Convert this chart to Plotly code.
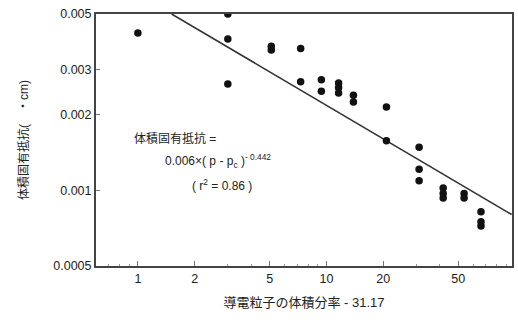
import plotly.graph_objects as go

# Data
px_vals = [1, 3, 3, 3, 5.1, 5.1, 7.3, 7.3, 9.4, 9.4, 11.6, 11.6, 11.6, 13.9, 13.9,
           20.8, 20.8, 31, 31, 31, 41.6, 41.6, 41.6, 53.7, 53.7, 66, 66, 66]
rho_vals = [0.0042, 0.005, 0.00398, 0.00264, 0.00360, 0.00372, 0.00365, 0.00269,
            0.00274, 0.00247, 0.00266, 0.00255, 0.00243, 0.00238, 0.00224,
            0.00214, 0.00157, 0.00148, 0.00121, 0.00109, 0.00102, 0.00097, 0.00093,
            0.00097, 0.00093, 0.00082, 0.00075, 0.00072]
fit_x = [1.51, 96]
fit_y = [0.005, 0.0008]
x_ticks = [1, 2, 5, 10, 20, 50]
x_minor = [0.7, 0.8, 0.9, 3, 4, 6, 7, 8, 9, 30, 40, 60, 70, 80, 90]
y_ticks = [0.0005, 0.001, 0.002, 0.003, 0.005]
y_tick_labels = ["0.0005", "0.001", "0.002", "0.003", "0.005"]

FONT = "Liberation Sans, Noto Sans CJK JP, Arial, sans-serif"

fig = go.Figure()
fig.add_trace(go.Scatter(x=fit_x, y=fit_y, mode="lines",
                         line=dict(color="#333333", width=1.6), showlegend=False))
fig.add_trace(go.Scatter(x=px_vals, y=rho_vals, mode="markers",
                         marker=dict(color="#111111", size=7.5), showlegend=False))

fig.update_layout(
    width=518, height=320,
    margin=dict(l=96, r=4, t=14, b=54),
    paper_bgcolor="white", plot_bgcolor="white",
    font=dict(family=FONT, size=12, color="#222222"),
    xaxis=dict(type="log", range=[-0.222, 1.984],
               tickvals=x_ticks, ticktext=[str(v) for v in x_ticks],
               ticks="inside", ticklen=5, tickcolor="#777777",
               minor=dict(tickvals=x_minor, ticks="inside", ticklen=2, tickcolor="#999999"),
               showgrid=False, zeroline=False,
               showline=True, linecolor="#444444", linewidth=2, mirror=True,
               tickfont=dict(size=12.5),
               title=dict(text="導電粒子の体積分率 - 31.17", font=dict(size=13), standoff=13)),
    yaxis=dict(type="log", range=[-3.30103, -2.30103],
               tickvals=y_ticks, ticktext=y_tick_labels,
               ticks="inside", ticklen=4, tickcolor="#777777",
               showgrid=False, zeroline=False,
               showline=True, linecolor="#444444", linewidth=2, mirror=True,
               tickfont=dict(size=12.5),
               title=dict(text="体積固有抵抗(　・cm)", font=dict(size=12), standoff=22)),
)

fig.add_annotation(x=(132 - 96) / 418, y=(266 - 138) / 252, xref="paper", yref="paper",
                   text="体積固有抵抗 =",
                   showarrow=False, xanchor="left", yanchor="middle", font=dict(size=12))
fig.add_annotation(x=(163 - 96) / 418, y=(266 - 161) / 252, xref="paper", yref="paper",
                   text="0.006×( p - p<sub>c</sub> )<sup>- 0.442</sup>",
                   showarrow=False, xanchor="left", yanchor="middle", font=dict(size=12))
fig.add_annotation(x=(190 - 96) / 418, y=(266 - 185) / 252, xref="paper", yref="paper",
                   text="( r<sup>2</sup> = 0.86 )",
                   showarrow=False, xanchor="left", yanchor="middle", font=dict(size=12))

fig.write_html("out.html")
